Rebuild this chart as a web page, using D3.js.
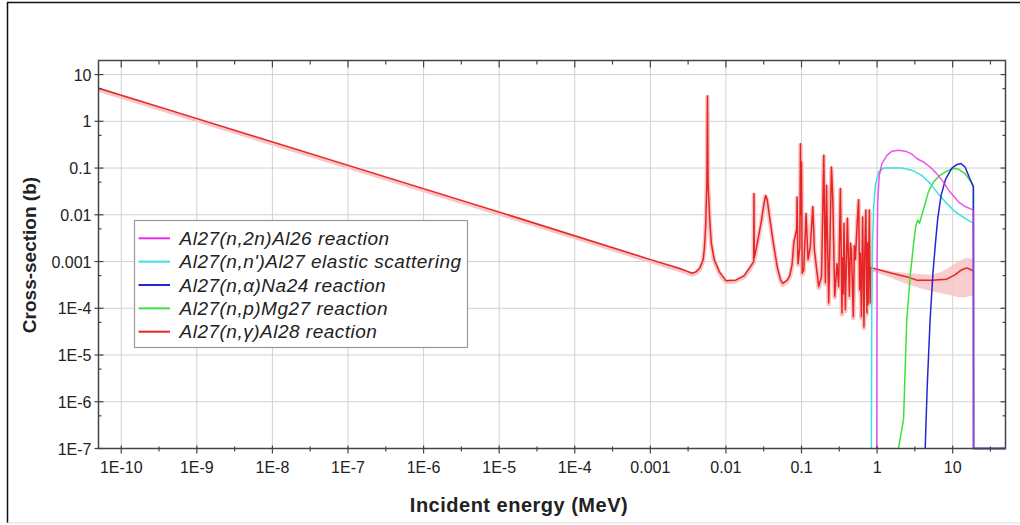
<!DOCTYPE html>
<html lang="en">
<head>
<meta charset="UTF-8">
<title>Al27 neutron cross-sections</title>
<script src="https://d3js.org/d3.v7.min.js"></script>
<style>
  body { margin: 0; background: #fff; font-family: "Liberation Sans", Arial, sans-serif; }
  .grid line { stroke: #d2d2d2; stroke-width: 1; }
  .tick-label { font-size: 16px; fill: #222; }
  .axis-title { font-size: 20px; font-weight: bold; fill: #222; }
  .legend-text { font-size: 19px; font-style: italic; fill: #222; letter-spacing: 0.5px; }
  .series { fill: none; stroke-linejoin: round; }
</style>
</head>
<body>
<svg width="1020" height="525"></svg>
<script>
// tick values and labels
const xTicks = [1e-10, 1e-9, 1e-8, 1e-7, 1e-6, 1e-5, 1e-4, 1e-3, 0.01, 0.1, 1, 10];
const xTickLabels = ["1E-10", "1E-9", "1E-8", "1E-7", "1E-6", "1E-5", "1E-4", "0.001", "0.01", "0.1", "1", "10"];
const xMinor = [3.16e-10, 3.16e-9, 3.16e-8, 3.16e-7, 3.16e-6, 3.16e-5, 3.16e-4, 3.16e-3, 0.0316, 0.316, 3.16, 31.6];
const yTicks = [1e-7, 1e-6, 1e-5, 1e-4, 1e-3, 0.01, 0.1, 1, 10];
const yTickLabels = ["1E-7", "1E-6", "1E-5", "1E-4", "0.001", "0.01", "0.1", "1", "10"];
const yMinor = [5e-7, 5e-6, 5e-5, 5e-4, 5e-3, 0.05, 0.5, 5];

// legend
const legendLabels = [
  "Al27(n,2n)Al26 reaction",
  "Al27(n,n')Al27 elastic scattering",
  "Al27(n,\u03b1)Na24 reaction",
  "Al27(n,p)Mg27 reaction",
  "Al27(n,\u03b3)Al28 reaction"
];
const legendColors = ["#e82ce8", "#3ee0e0", "#2626d4", "#3ee03e", "#e82424"];

// (n,2n)  energy MeV / cross-section b
const n2nE  = [0.99, 1.0, 1.02, 1.07, 1.16, 1.35, 1.57, 1.92, 2.36, 2.88, 3.35, 4.1, 5.03, 6.15, 7.55, 9.2, 11.9, 14.6, 18.8, 18.9, 50];
const n2nXS = [1e-7, 1e-3, 0.019, 0.07, 0.125, 0.187, 0.23, 0.24, 0.23, 0.2, 0.16, 0.135, 0.105, 0.076, 0.05, 0.031, 0.019, 0.015, 0.0126, 1e-7, 1e-7];

// (n,n')
const inelE  = [0.84, 0.85, 0.87, 0.9, 0.95, 1.05, 1.22, 2.12, 2.88, 3.9, 5.03, 6.47, 8.35, 10.7, 14.6, 18.8, 18.9, 50];
const inelXS = [1e-7, 1e-4, 2.3e-3, 0.0137, 0.043, 0.083, 0.1, 0.1, 0.09, 0.07, 0.047, 0.028, 0.0175, 0.0117, 0.0084, 0.0066, 1e-7, 1e-7];

// (n,alpha)
const naE  = [4.33, 4.6, 4.8, 5.03, 5.5, 5.97, 6.35, 7.03, 8.1, 9.7, 11.3, 12.9, 14.6, 16.9, 18.8, 18.9, 50];
const naXS = [1e-7, 2e-6, 1e-5, 5.7e-5, 6e-4, 2.9e-3, 8.4e-3, 0.026, 0.059, 0.098, 0.118, 0.125, 0.105, 0.059, 0.04, 1e-7, 1e-7];

// (n,p)
const npE  = [1.92, 2.24, 2.47, 2.74, 3.03, 3.25, 3.45, 3.64, 3.9, 4.33, 4.78, 5.56, 6.8, 8.35, 10.2, 11.9, 14.6, 16.9, 18.8, 18.9, 50];
const npXS = [1e-7, 4.2e-7, 5.7e-5, 4.8e-4, 2.3e-3, 5.6e-3, 7.7e-3, 6.6e-3, 9.8e-3, 0.0175, 0.031, 0.05, 0.07, 0.086, 0.098, 0.095, 0.076, 0.055, 0.04, 1e-7, 1e-7];

// (n,gamma)
const ngE = [5e-11, 1e-9, 1e-7, 1e-5, 1e-3, 2.5e-3, 3.2e-3, 3.6e-3, 4.0e-3, 4.5e-3, 5.0e-3, 5.2e-3, 5.4e-3, 5.6e-3, 5.7e-3, 5.8e-3,
  6.1e-3, 6.4e-3, 7.0e-3, 8.2e-3, 0.01, 0.0135, 0.0175, 0.021, 0.0233, 0.0235, 0.0237, 0.025, 0.027, 0.0296, 0.0316, 0.0335,
  0.0352, 0.0378, 0.0418, 0.0477, 0.053, 0.0567, 0.0647, 0.07, 0.075,
  0.079, 0.083, 0.0865, 0.0875, 0.089, 0.09, 0.095, 0.097, 0.0985, 0.1, 0.102, 0.107, 0.115, 0.122, 0.131, 0.141, 0.148,
  0.16, 0.169, 0.184, 0.197, 0.207, 0.214, 0.229, 0.249, 0.259, 0.275, 0.295, 0.31, 0.327, 0.343, 0.35, 0.356, 0.365, 0.38,
  0.405, 0.43, 0.444, 0.457, 0.485, 0.5, 0.516, 0.548, 0.57, 0.588, 0.6, 0.62, 0.644, 0.67, 0.69, 0.71, 0.734, 0.745, 0.76,
  0.79, 0.81, 0.82,
  1.57, 2.6, 3.35, 5.3, 8.35, 10.7, 13.1, 15.3, 17.8, 18.8];
const ngXS = [5.1, 1.14, 0.114, 0.0114, 1.1e-3, 7.0e-4, 6.0e-4, 5.6e-4, 6.0e-4, 7.2e-4, 1.1e-3, 2.0e-3, 6e-3, 0.05, 3.5, 0.05,
  8e-3, 2.5e-3, 1.1e-3, 6.0e-4, 3.9e-4, 4.0e-4, 5.0e-4, 7.7e-4, 1.0e-3, 0.0286, 1.2e-3, 1.8e-3, 3.4e-3, 7.7e-3, 0.016, 0.026,
  0.021, 9e-3, 2.9e-3, 7.7e-4, 4.0e-4, 3.4e-4, 4.0e-4, 5.0e-4, 8.5e-4,
  2.45e-3, 3.7e-3, 5e-3, 0.024, 2e-3, 9e-4, 2e-3, 0.33, 0.01, 0.135, 5.6e-4, 6.6e-4, 0.0107, 1.1e-3, 2.1e-3, 0.015, 1.8e-3,
  6e-4, 2.9e-4, 4.8e-4, 0.187, 3.5e-4, 0.043, 1.3e-4, 0.105, 0.024, 1.8e-4, 9e-4, 2.9e-4, 0.0366, 7.9e-5, 1.2e-3, 2e-4, 6.6e-3, 9.3e-5,
  8.4e-3, 1.8e-4, 2.5e-3, 1.8e-3, 6.6e-5, 2.2e-3, 1.1e-3, 7.7e-3, 0.021, 2.5e-4, 1.5e-3, 6.6e-5, 9e-3, 4e-5, 2e-3, 0.0126, 7.9e-5, 2.5e-3, 1.2e-4,
  0.0126, 1.3e-4, 7.4e-4,
  5.6e-4, 4.6e-4, 4.0e-4, 4.0e-4, 4.2e-4, 5.2e-4, 6.6e-4, 7.3e-4, 6.6e-4, 6.1e-4];

// (n,gamma) uncertainty band above 0.8 MeV
const ngBandE  = [0.82, 0.85, 1.57, 2.6, 4.4, 5.3, 7.0, 8.7, 10.7, 11.6, 14.1, 15.3, 18.8];
const ngBandHi = [7.6e-4, 7.6e-4, 6.2e-4, 5.6e-4, 5.3e-4, 5.2e-4, 6.0e-4, 7.3e-4, 9.0e-4, 1.0e-3, 1.15e-3, 1.2e-3, 1.1e-3];
const ngBandLo = [7.2e-4, 6.6e-4, 4.4e-4, 3.2e-4, 2.5e-4, 2.3e-4, 2.1e-4, 1.95e-4, 1.8e-4, 1.75e-4, 1.7e-4, 1.75e-4, 1.9e-4];

const svg = d3.select("svg");
const plotL = 98.5, plotR = 1005.5, plotT = 60.5, plotB = 448.5;

const x = d3.scaleLog().domain([5e-11, 50]).range([plotL, plotR]);
const y = d3.scaleLog().domain([1e-7, 20]).range([plotB, plotT]).clamp(true);

// outer frame of the figure
svg.append("line").attr("x1", 7.5).attr("x2", 7.5).attr("y1", 2).attr("y2", 523)
  .attr("stroke", "#111").attr("stroke-width", 1.5);
svg.append("line").attr("x1", 7).attr("x2", 1020).attr("y1", 2.5).attr("y2", 2.5)
  .attr("stroke", "#111").attr("stroke-width", 1.5);
svg.append("line").attr("x1", 7).attr("x2", 1020).attr("y1", 523).attr("y2", 523)
  .attr("stroke", "#ddd").attr("stroke-width", 1);

// grid
const grid = svg.append("g").attr("class", "grid");
grid.selectAll(".vx").data(xTicks).enter().append("line")
  .attr("x1", d => x(d)).attr("x2", d => x(d)).attr("y1", plotT).attr("y2", plotB);
grid.selectAll(".hy").data(yTicks).enter().append("line")
  .attr("x1", plotL).attr("x2", plotR).attr("y1", d => y(d)).attr("y2", d => y(d));

// plot contents, clipped
svg.append("clipPath").attr("id", "plot-clip").append("rect")
  .attr("x", plotL).attr("y", plotT).attr("width", plotR - plotL).attr("height", plotB - plotT + 1.5);
const plot = svg.append("g").attr("clip-path", "url(#plot-clip)");

const line = d3.line().x(d => x(d[0])).y(d => y(d[1]));
const area = d3.area().x(d => x(d[0])).y0(d => y(d[1])).y1(d => y(d[2]));

const bandData = ngBandE.map((e, i) => [e, ngBandLo[i], ngBandHi[i]]);
plot.append("path").attr("d", area(bandData)).attr("fill", "#f6c4c4").attr("opacity", 0.85);

const ngData = ngE.map((e, i) => [e, ngXS[i]]);
// light halo = uncertainty band of the resolved region
plot.append("path").attr("class", "series").attr("d", line(ngData))
  .style("stroke", "#f7c6c6").style("stroke-width", 4.5).attr("transform", "translate(0,1.2)");
plot.append("path").attr("class", "series").attr("d", line(ngData))
  .style("stroke", legendColors[4]).style("stroke-width", 1.5);

const series = [
  { e: npE, xs: npXS, c: legendColors[3], o: 1 },
  { e: inelE, xs: inelXS, c: legendColors[1], o: 1 },
  { e: naE, xs: naXS, c: legendColors[2], o: 1 },
  { e: n2nE, xs: n2nXS, c: legendColors[0], o: 0.8 }
];
series.forEach(s => {
  plot.append("path").attr("class", "series")
    .attr("d", line(s.e.map((e, i) => [e, s.xs[i]])))
    .style("stroke", s.c).style("stroke-width", 1.5).style("stroke-opacity", s.o);
});

// frame and ticks
const axisColor = "#444";
svg.append("rect").attr("x", plotL).attr("y", plotT).attr("width", plotR - plotL).attr("height", plotB - plotT)
  .attr("fill", "none").attr("stroke", axisColor).attr("stroke-width", 1.5);

const ticks = svg.append("g").attr("stroke", axisColor).attr("stroke-width", 1.2);
xTicks.forEach(v => {
  ticks.append("line").attr("x1", x(v)).attr("x2", x(v)).attr("y1", plotB - 3).attr("y2", plotB + 5);
  ticks.append("line").attr("x1", x(v)).attr("x2", x(v)).attr("y1", plotT).attr("y2", plotT + 7);
});
xMinor.filter(v => v < 50).forEach(v => {
  ticks.append("line").attr("x1", x(v)).attr("x2", x(v)).attr("y1", plotB - 2).attr("y2", plotB + 3);
  ticks.append("line").attr("x1", x(v)).attr("x2", x(v)).attr("y1", plotT).attr("y2", plotT + 4);
});
yTicks.forEach(v => {
  ticks.append("line").attr("x1", plotL - 4).attr("x2", plotL + 5).attr("y1", y(v)).attr("y2", y(v));
  ticks.append("line").attr("x1", plotR - 5).attr("x2", plotR).attr("y1", y(v)).attr("y2", y(v));
});
yMinor.forEach(v => {
  ticks.append("line").attr("x1", plotL).attr("x2", plotL + 3).attr("y1", y(v)).attr("y2", y(v));
  ticks.append("line").attr("x1", plotR - 3).attr("x2", plotR).attr("y1", y(v)).attr("y2", y(v));
});

// tick labels
svg.selectAll(".xl").data(xTicks).enter().append("text")
  .attr("class", "tick-label").attr("text-anchor", "middle")
  .attr("x", d => x(d)).attr("y", plotB + 24.5)
  .text((d, i) => xTickLabels[i]);
svg.selectAll(".yl").data(yTicks).enter().append("text")
  .attr("class", "tick-label").attr("text-anchor", "end")
  .attr("x", plotL - 7).attr("y", d => y(d) + 6)
  .text((d, i) => yTickLabels[i]);

// axis titles
svg.append("text").attr("class", "axis-title").attr("text-anchor", "middle")
  .attr("x", 519).attr("y", 512).style("letter-spacing", "0.5px")
  .text("Incident energy (MeV)");
svg.append("text").attr("class", "axis-title").attr("text-anchor", "middle")
  .attr("transform", "translate(36,255) rotate(-90)").style("font-size", "19px")
  .text("Cross-section (b)");

// legend
const lg = svg.append("g");
lg.append("rect").attr("x", 134.5).attr("y", 220.5).attr("width", 333).attr("height", 127)
  .attr("fill", "#fff").attr("stroke", "#999").attr("stroke-width", 1.2);
legendLabels.forEach((t, i) => {
  const cy = 238.3 + i * 23.35;
  lg.append("line").attr("x1", 138.5).attr("x2", 170).attr("y1", cy).attr("y2", cy)
    .attr("stroke", legendColors[i]).attr("stroke-width", 2);
  lg.append("text").attr("class", "legend-text").attr("x", 179.5).attr("y", cy + 6.5).text(t);
});
</script>
</body>
</html>
